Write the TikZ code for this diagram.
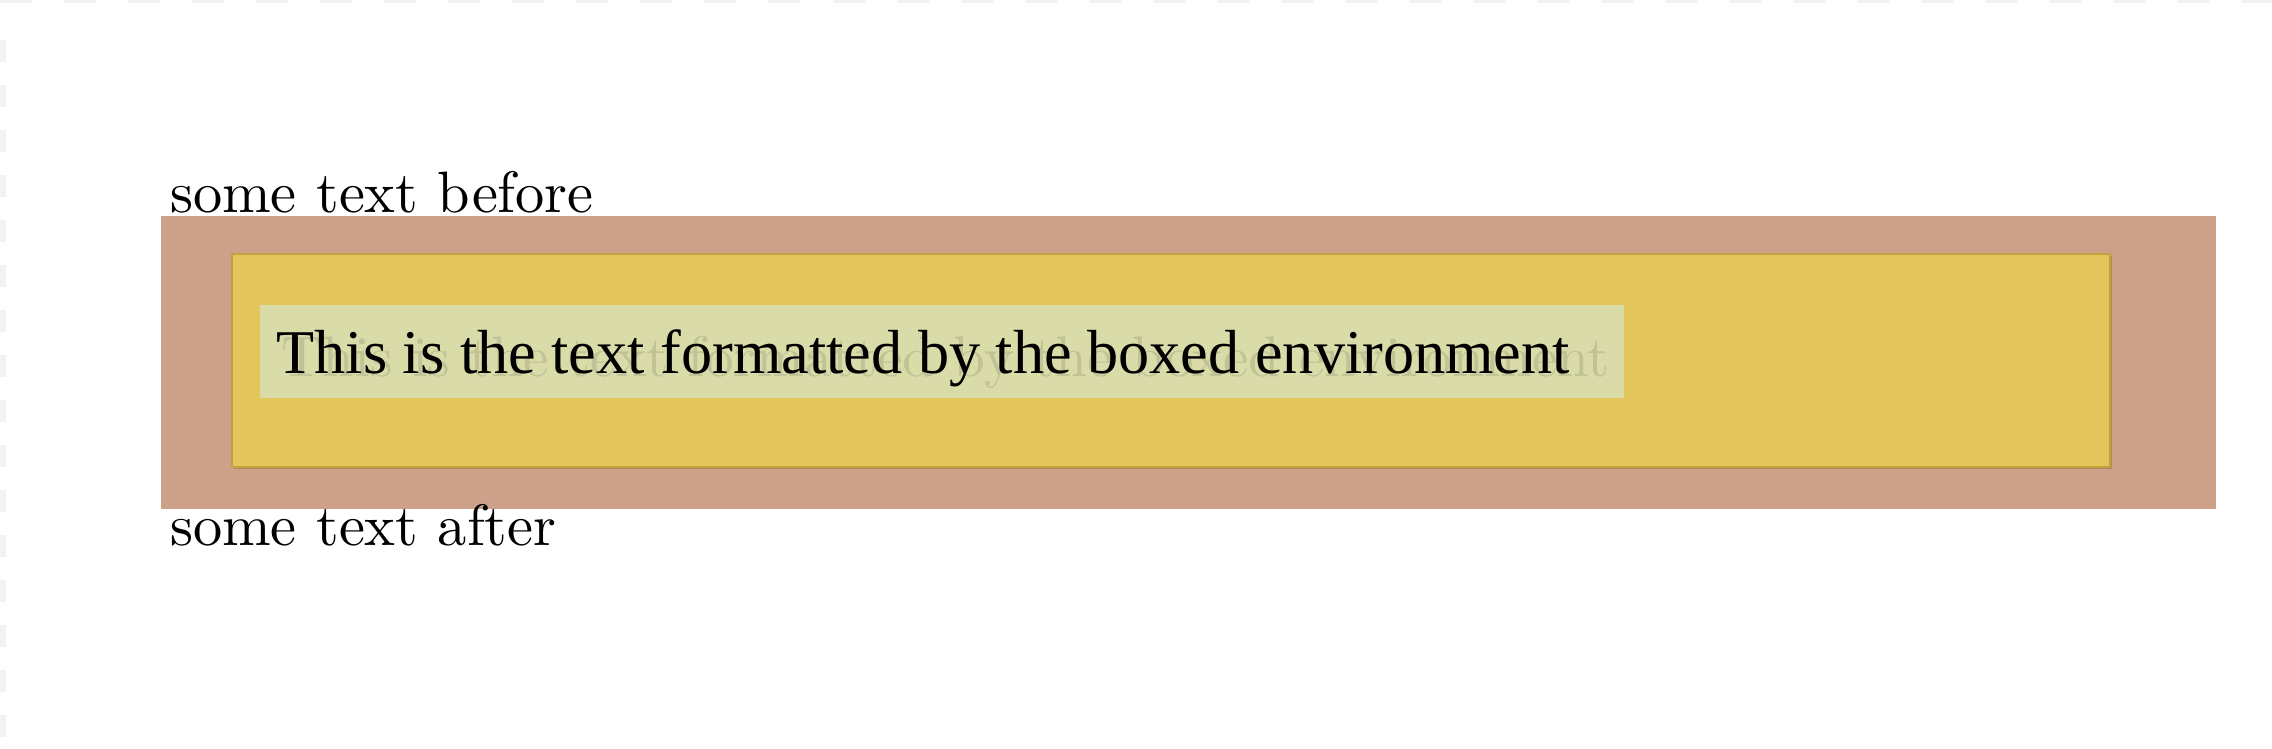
\documentclass[tikz,border=0pt]{standalone}
\usepackage{fontspec}
\newfontfamily\timesfont{Liberation Serif}
\definecolor{outerbrown}{RGB}{205,161,137}
\definecolor{boxyellow}{RGB}{226,198,91}
\definecolor{boxedge}{RGB}{194,162,62}
\definecolor{boxshadow}{RGB}{176,136,92}
\definecolor{textgreen}{RGB}{217,219,169}
\begin{document}
\begin{tikzpicture}[x=0.01cm,y=-0.01cm,
    plaintext/.style={anchor=base west,inner sep=0pt,scale=1.66,font=\fontsize{10}{12}\selectfont},
    boxedtext/.style={anchor=base west,inner sep=0pt,font=\timesfont\fontsize{17.7}{21}\selectfont}]
    \useasboundingbox (0,0) rectangle (2272,748);
    \fill[white] (0,0) rectangle (2272,748);
    \begin{scope}[black!5]
        \draw[line width=0.06cm,dash pattern=on 0.22cm off 0.23cm] (3,40) -- (3,748);
        \draw[line width=0.03cm,dash pattern=on 0.32cm off 0.32cm] (0,1) -- (2272,1);
    \end{scope}
    \fill[outerbrown] (161,216) rectangle (2216,509);
    \fill[boxshadow] (234,256) rectangle (2112,469);
    \filldraw[fill=boxyellow,draw=boxedge,line width=0.02cm] (232,254) rectangle (2110,467);
    \fill[textgreen] (260,305) rectangle (1624,398);
    \node[plaintext] (before) at (169,212) {some text before};
    \node[plaintext,scale=0.982,opacity=0.11] (ghost) at (280,376) {This is the text formatted by the boxed environment};
    \node[boxedtext] (boxed) at (276,373) {This is the text formatted by the boxed environment};
    \node[plaintext] (after) at (169,545) {some text after};
\end{tikzpicture}
\end{document}
